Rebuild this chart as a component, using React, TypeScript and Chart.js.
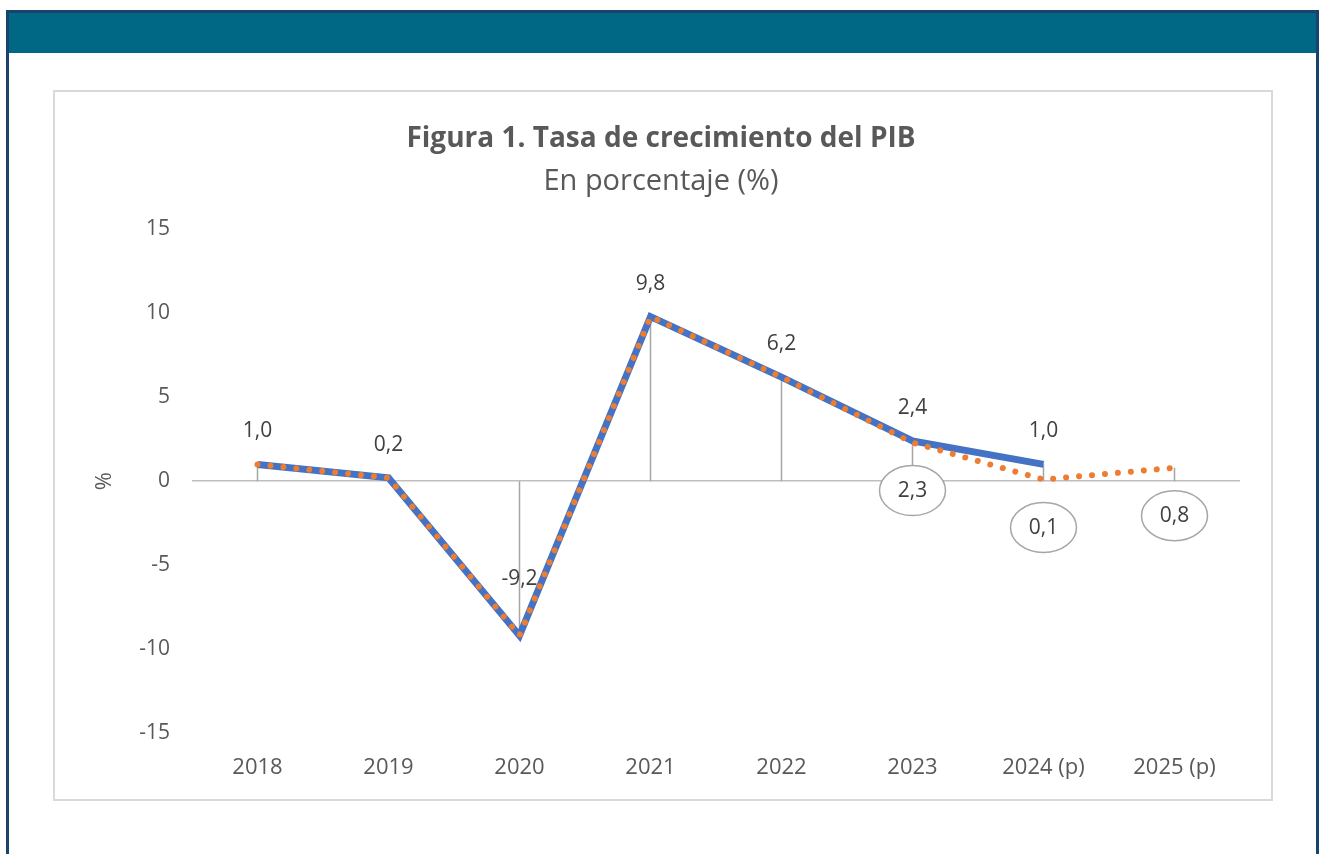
import React, { useEffect, useRef } from "react";
import { Chart, registerables } from "chart.js";

Chart.register(...registerables);

const categories = ["2018", "2019", "2020", "2021", "2022", "2023", "2024 (p)", "2025 (p)"];
const actualValues: (number | null)[] = [1.0, 0.2, -9.2, 9.8, 6.2, 2.4, 1.0, null];
const projectedValues: (number | null)[] = [1.0, 0.2, -9.2, 9.8, 6.2, 2.3, 0.1, 0.8];
const yTickValues = [-15, -10, -5, 0, 5, 10, 15];
const titleText = "Figura 1. Tasa de crecimiento del PIB";
const subtitleText = "En porcentaje (%)";
const yAxisLabel = "%";

const FONT = "'Open Sans', 'DejaVu Sans', sans-serif";
const TEXT = "#595959";
const LABEL = "#404040";
const GRAY = "#a6a6a6";

const fmt = (v: number) => v.toFixed(1).replace(".", ",");

const dropLinesPlugin = {
  id: "dropLines",
  beforeDatasetsDraw(chart: any) {
    const { ctx } = chart;
    const xs = chart.scales.x;
    const ys = chart.scales.y;
    ctx.save();
    ctx.strokeStyle = GRAY;
    ctx.lineWidth = 1.5;
    categories.forEach((_, i) => {
      const vals = [actualValues[i], projectedValues[i]].filter((v) => v != null) as number[];
      const v = vals.reduce((a, b) => (Math.abs(b) > Math.abs(a) ? b : a), 0);
      const px = xs.getPixelForValue(i);
      ctx.beginPath();
      ctx.moveTo(px, ys.getPixelForValue(0));
      ctx.lineTo(px, ys.getPixelForValue(v));
      ctx.stroke();
    });
    ctx.restore();
  },
};

const labelsPlugin = {
  id: "valueLabels",
  afterDatasetsDraw(chart: any) {
    const { ctx } = chart;
    const xs = chart.scales.x;
    const ys = chart.scales.y;
    ctx.save();
    ctx.font = `21px ${FONT}`;
    ctx.fillStyle = LABEL;
    ctx.textAlign = "center";
    ctx.textBaseline = "middle";
    actualValues.forEach((v, i) => {
      if (v == null) return;
      const px = xs.getPixelForValue(i);
      const py = ys.getPixelForValue(v);
      ctx.fillText(fmt(v), px, py - (v < 0 ? 57 : 33));
    });
    projectedValues.forEach((v, i) => {
      if (v == null) return;
      const a = actualValues[i];
      if (a != null && a === v) return;
      const px = xs.getPixelForValue(i);
      const py = ys.getPixelForValue(v);
      const cy = py + 48;
      ctx.beginPath();
      ctx.ellipse(px, cy, 33, 25, 0, 0, Math.PI * 2);
      ctx.fillStyle = "#ffffff";
      ctx.fill();
      ctx.strokeStyle = GRAY;
      ctx.lineWidth = 1.5;
      ctx.stroke();
      ctx.fillStyle = LABEL;
      ctx.fillText(fmt(v), px, cy);
    });
    ctx.restore();
  },
};

function GdpChart() {
  const ref = useRef<HTMLCanvasElement>(null);
  useEffect(() => {
    if (!ref.current) return;
    const chart = new Chart(ref.current, {
      type: "line",
      data: {
        labels: categories,
        datasets: [
          {
            label: "Observado",
            data: actualValues,
            borderColor: "#4472c4",
            backgroundColor: "#4472c4",
            borderWidth: 7,
            pointRadius: 0,
            tension: 0,
            order: 1,
            spanGaps: false,
          },
          {
            label: "Proyección",
            data: projectedValues,
            borderColor: "#ed7d31",
            backgroundColor: "#ed7d31",
            borderWidth: 6,
            borderDash: [0.001, 13],
            borderCapStyle: "round",
            pointRadius: 0,
            tension: 0,
            order: 0,
          },
        ],
      },
      options: {
        responsive: false,
        animation: false,
        devicePixelRatio: 1,
        layout: { padding: { left: 27, right: 30, top: 0, bottom: 0 } },
        plugins: {
          legend: { display: false },
          tooltip: { enabled: false },
          title: {
            display: true,
            text: titleText,
            color: TEXT,
            font: { family: FONT, size: 28, weight: "bold", lineHeight: 1.2 },
            padding: { top: 30, bottom: 3 },
          },
          subtitle: {
            display: true,
            text: subtitleText,
            color: TEXT,
            font: { family: FONT, size: 29, weight: "normal", lineHeight: 1.2 },
            padding: { top: 6, bottom: 30 },
          },
        },
        scales: {
          x: {
            offset: true,
            grid: { display: false, offset: true },
            border: { display: false },
            ticks: { color: TEXT, font: { family: FONT, size: 22 }, padding: 14, maxRotation: 0 },
            afterFit(s: any) {
              s.height = 65;
            },
          },
          y: {
            min: -15,
            max: 15,
            afterBuildTicks(s: any) {
              s.ticks = yTickValues.map((v) => ({ value: v }));
            },
            grid: {
              drawTicks: false,
              lineWidth: 1.5,
              color: (c: any) => (c.tick && c.tick.value === 0 ? "#bfbfbf" : "rgba(0,0,0,0)"),
            },
            border: { display: false },
            ticks: { color: TEXT, font: { family: FONT, size: 21 }, padding: 22 },
            title: {
              display: true,
              text: yAxisLabel,
              color: TEXT,
              font: { family: FONT, size: 22 },
              padding: { top: 10, bottom: 0 },
            },
            afterFit(s: any) {
              s.width = 110;
            },
          },
        },
      },
      plugins: [dropLinesPlugin, labelsPlugin],
    } as any);
    return () => chart.destroy();
  }, []);
  return (
    <canvas
      ref={ref}
      width={1215}
      height={706}
      style={{ position: "absolute", left: 55, top: 92, width: 1215, height: 706 }}
    />
  );
}

export default function App() {
  return (
    <div
      style={{
        position: "absolute",
        left: 0,
        top: 0,
        width: 1320,
        height: 854,
        background: "#ffffff",
        overflow: "hidden",
      }}
    >
      <div
        style={{
          position: "absolute",
          left: 6,
          top: 10,
          width: 1313,
          height: 900,
          border: "3px solid #1a426e",
          boxSizing: "border-box",
        }}
      />
      <div style={{ position: "absolute", left: 9, top: 13, width: 1307, height: 40, background: "#006884" }} />
      <div
        style={{
          position: "absolute",
          left: 53,
          top: 90,
          width: 1220,
          height: 711,
          border: "2px solid #d9d9d9",
          boxSizing: "border-box",
        }}
      />
      <GdpChart />
    </div>
  );
}
